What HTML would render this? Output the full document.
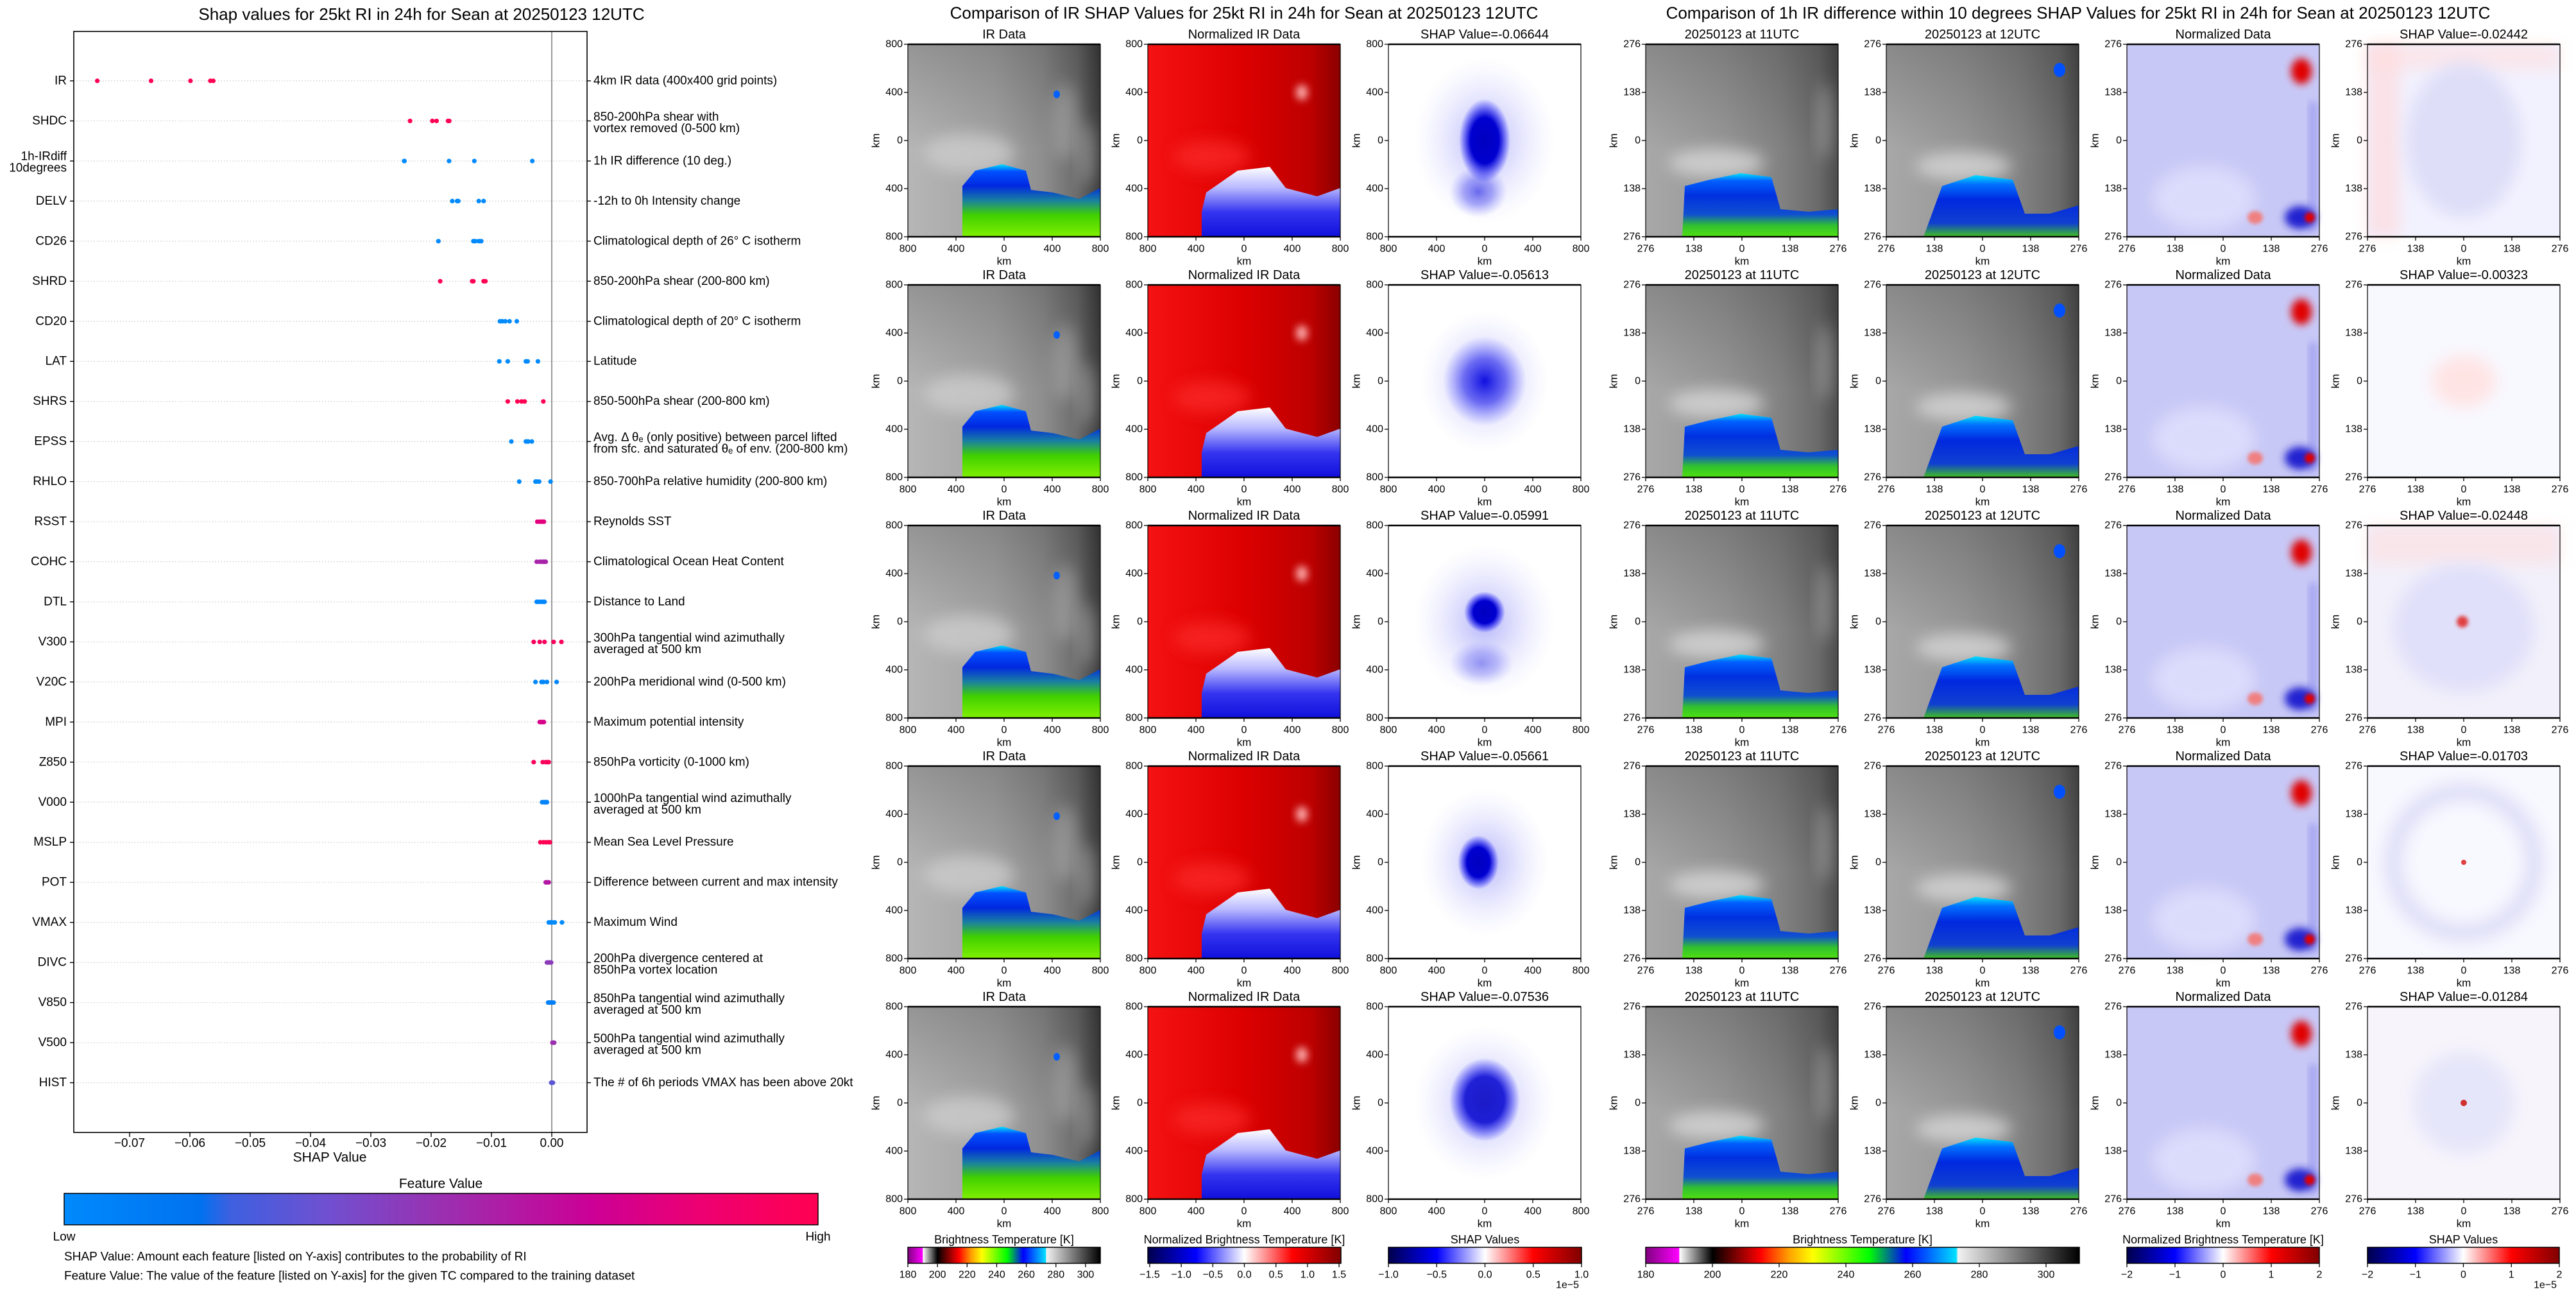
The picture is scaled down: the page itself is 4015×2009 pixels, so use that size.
<!DOCTYPE html>
<html><head><meta charset="utf-8"><title>SHAP RI figure</title>
<style>
html,body{margin:0;padding:0;background:#fff;}
svg{display:block;font-family:"Liberation Sans",sans-serif;}
</style></head>
<body>
<svg id="fig" xmlns="http://www.w3.org/2000/svg" width="4015" height="2009" viewBox="0 0 4015 2009">
<defs>
<filter id="b6" x="-50%" y="-50%" width="200%" height="200%"><feGaussianBlur stdDeviation="6"/></filter>
<filter id="b12" x="-50%" y="-50%" width="200%" height="200%"><feGaussianBlur stdDeviation="12"/></filter>
<filter id="b25" x="-50%" y="-50%" width="200%" height="200%"><feGaussianBlur stdDeviation="25"/></filter>
<filter id="b3" x="-50%" y="-50%" width="200%" height="200%"><feGaussianBlur stdDeviation="3"/></filter>
<linearGradient id="grayL" x1="0" y1="0" x2="1" y2="0"><stop offset="0" stop-color="#b6b6b6"/><stop offset="0.45" stop-color="#a4a4a4"/><stop offset="0.7" stop-color="#8e8e8e"/><stop offset="0.88" stop-color="#6c6c6c"/><stop offset="1" stop-color="#3c3c3c"/></linearGradient>
<linearGradient id="grayR" x1="0" y1="0" x2="1" y2="0"><stop offset="0" stop-color="#a8a8a8"/><stop offset="0.4" stop-color="#979797"/><stop offset="0.7" stop-color="#828282"/><stop offset="0.9" stop-color="#6a6a6a"/><stop offset="1" stop-color="#4c4c4c"/></linearGradient>
<linearGradient id="shadeTop" x1="0" y1="0" x2="0" y2="1"><stop offset="0" stop-color="#000" stop-opacity="0.18"/><stop offset="0.55" stop-color="#000" stop-opacity="0"/></linearGradient>
<linearGradient id="cloudL" x1="0" y1="0" x2="0" y2="1"><stop offset="0" stop-color="#00e0ff"/><stop offset="0.1" stop-color="#0050ff"/><stop offset="0.3" stop-color="#0028e0"/><stop offset="0.5" stop-color="#1a80a0"/><stop offset="0.7" stop-color="#40d000"/><stop offset="1" stop-color="#80f000"/></linearGradient>
<linearGradient id="cloudR" x1="0" y1="0" x2="0" y2="1"><stop offset="0" stop-color="#00e0ff"/><stop offset="0.12" stop-color="#0060ff"/><stop offset="0.35" stop-color="#0030e0"/><stop offset="0.65" stop-color="#1050d0"/><stop offset="0.82" stop-color="#30c030"/><stop offset="1" stop-color="#50e010"/></linearGradient>
<linearGradient id="cloudR2" x1="0" y1="0" x2="0" y2="1"><stop offset="0" stop-color="#00e0ff"/><stop offset="0.15" stop-color="#0070ff"/><stop offset="0.4" stop-color="#0028e0"/><stop offset="0.78" stop-color="#1040d0"/><stop offset="1" stop-color="#40c020"/></linearGradient>
<linearGradient id="redL" x1="0" y1="0" x2="1" y2="0"><stop offset="0" stop-color="#f51212"/><stop offset="0.5" stop-color="#dc0000"/><stop offset="0.85" stop-color="#bc0000"/><stop offset="1" stop-color="#8a0000"/></linearGradient>
<linearGradient id="normCloud" x1="0" y1="0" x2="0" y2="1"><stop offset="0" stop-color="#ffffff"/><stop offset="0.3" stop-color="#b8b8ff"/><stop offset="0.65" stop-color="#3434f0"/><stop offset="1" stop-color="#1010dc"/></linearGradient>
<radialGradient id="blobDark"><stop offset="0" stop-color="#0000c0"/><stop offset="0.55" stop-color="#0000d0"/><stop offset="1" stop-color="#0000ff" stop-opacity="0"/></radialGradient>
<radialGradient id="blobSoft"><stop offset="0" stop-color="#1010e0"/><stop offset="0.5" stop-color="#5050f0" stop-opacity="0.8"/><stop offset="1" stop-color="#8080ff" stop-opacity="0"/></radialGradient>
<radialGradient id="halo"><stop offset="0" stop-color="#a0a0f8" stop-opacity="0.8"/><stop offset="1" stop-color="#d8d8ff" stop-opacity="0"/></radialGradient>
<linearGradient id="cmapShap" x1="0" y1="0" x2="1" y2="0"><stop offset="0" stop-color="#008afc"/><stop offset="0.18" stop-color="#0072f0"/><stop offset="0.22" stop-color="#3d60e0"/><stop offset="0.35" stop-color="#7050d0"/><stop offset="0.5" stop-color="#9a30b0"/><stop offset="0.7" stop-color="#cc0096"/><stop offset="0.85" stop-color="#ee0070"/><stop offset="1" stop-color="#ff0052"/></linearGradient>
<linearGradient id="cmapBT" x1="0" y1="0" x2="1" y2="0"><stop offset="0" stop-color="#800080"/><stop offset="0.077" stop-color="#ff00ff"/><stop offset="0.078" stop-color="#ffffff"/><stop offset="0.154" stop-color="#000000"/><stop offset="0.265" stop-color="#ff0000"/><stop offset="0.33" stop-color="#ffa000"/><stop offset="0.385" stop-color="#ffff00"/><stop offset="0.515" stop-color="#00ff00"/><stop offset="0.6" stop-color="#0000ff"/><stop offset="0.716" stop-color="#00e0ff"/><stop offset="0.72" stop-color="#f2f2f2"/><stop offset="1" stop-color="#000000"/></linearGradient>
<linearGradient id="cmapSeis" x1="0" y1="0" x2="1" y2="0"><stop offset="0" stop-color="#00004c"/><stop offset="0.25" stop-color="#0000ff"/><stop offset="0.5" stop-color="#ffffff"/><stop offset="0.75" stop-color="#ff0000"/><stop offset="1" stop-color="#800000"/></linearGradient>

<g id="irL">
<rect width="300" height="300" fill="url(#grayL)"/>
<rect width="300" height="300" fill="url(#shadeTop)"/>
<ellipse cx="95" cy="170" rx="70" ry="30" fill="#d0d0d0" opacity="0.7" filter="url(#b12)"/>
<ellipse cx="245" cy="120" rx="20" ry="60" fill="#cccccc" opacity="0.35" filter="url(#b12)"/>
<ellipse cx="280" cy="170" rx="12" ry="50" fill="#dddddd" opacity="0.35" filter="url(#b12)"/>
<ellipse cx="232" cy="78" rx="5" ry="6" fill="#0060ff"/>
<polygon points="85,300 85,221 105,197 147,187 184,197 192,227 226,231 267,241 300,224 300,300" fill="url(#cloudL)"/>
</g>
<g id="normL">
<rect width="300" height="300" fill="url(#redL)"/>
<ellipse cx="100" cy="175" rx="60" ry="25" fill="#ff3030" opacity="0.6" filter="url(#b12)"/>
<ellipse cx="240" cy="75" rx="9" ry="12" fill="#ffb0b0" filter="url(#b6)"/>
<polygon points="84,300 84,261 91,231 140,197 190,191 215,224 264,237 300,224 300,300" fill="url(#normCloud)"/>
</g>
<g id="shapL1"><rect width="300" height="300" fill="#fff"/><ellipse cx="150" cy="150" rx="110" ry="130" fill="url(#halo)"/><ellipse cx="140" cy="230" rx="45" ry="40" fill="url(#blobSoft)" opacity="0.6"/><ellipse cx="150" cy="150" rx="40" ry="65" fill="url(#blobDark)"/></g>
<g id="shapL2"><rect width="300" height="300" fill="#fff"/><ellipse cx="150" cy="150" rx="100" ry="110" fill="url(#halo)"/><ellipse cx="150" cy="150" rx="65" ry="70" fill="url(#blobSoft)"/></g>
<g id="shapL3"><rect width="300" height="300" fill="#fff"/><ellipse cx="150" cy="150" rx="110" ry="120" fill="url(#halo)"/><ellipse cx="145" cy="215" rx="50" ry="35" fill="url(#blobSoft)" opacity="0.4"/><ellipse cx="150" cy="135" rx="32" ry="32" fill="url(#blobDark)"/></g>
<g id="shapL4"><rect width="300" height="300" fill="#fff"/><ellipse cx="150" cy="150" rx="100" ry="115" fill="url(#halo)"/><ellipse cx="140" cy="150" rx="32" ry="42" fill="url(#blobDark)"/></g>
<g id="shapL5"><rect width="300" height="300" fill="#fff"/><ellipse cx="150" cy="150" rx="110" ry="120" fill="url(#halo)"/><ellipse cx="150" cy="145" rx="55" ry="65" fill="url(#blobDark)" opacity="0.85"/></g>

<g id="ir11">
<rect width="300" height="300" fill="url(#grayR)"/>
<rect width="300" height="300" fill="url(#shadeTop)"/>
<ellipse cx="110" cy="185" rx="75" ry="22" fill="#d8d8d8" opacity="0.8" filter="url(#b12)"/>
<ellipse cx="280" cy="120" rx="12" ry="60" fill="#d8d8d8" opacity="0.35" filter="url(#b12)"/>
<polygon points="57,300 61,221 100,211 148,201 196,207 210,257 254,261 300,257 300,300" fill="url(#cloudR)"/>
</g>
<g id="ir12">
<rect width="300" height="300" fill="url(#grayR)"/>
<rect width="300" height="300" fill="url(#shadeTop)"/>
<ellipse cx="120" cy="190" rx="75" ry="22" fill="#d8d8d8" opacity="0.8" filter="url(#b12)"/>
<ellipse cx="270" cy="40" rx="9" ry="11" fill="#0050ff"/>
<polygon points="58,300 87,221 139,204 197,211 216,264 255,264 300,251 300,300" fill="url(#cloudR2)"/>
</g>
<g id="normR">
<rect width="300" height="300" fill="#c8c8f6"/>
<ellipse cx="120" cy="240" rx="80" ry="50" fill="#e4e4ff" opacity="0.7" filter="url(#b12)"/>
<ellipse cx="272" cy="42" rx="16" ry="20" fill="#e00000" filter="url(#b6)"/>
<rect x="285" y="90" width="10" height="200" fill="#4040e0" opacity="0.35" filter="url(#b6)"/>
<ellipse cx="270" cy="270" rx="24" ry="18" fill="#2020d0" filter="url(#b6)"/>
<ellipse cx="285" cy="270" rx="8" ry="8" fill="#e00000" filter="url(#b3)"/>
<ellipse cx="200" cy="270" rx="12" ry="10" fill="#f08080" filter="url(#b3)"/>
</g>
<g id="shapR1"><rect width="300" height="300" fill="#f2f2ff"/><rect x="0" y="0" width="50" height="300" fill="#ffd6d6" opacity="0.6" filter="url(#b12)"/><rect x="0" y="0" width="300" height="40" fill="#ffdede" opacity="0.6" filter="url(#b12)"/><ellipse cx="150" cy="150" rx="90" ry="120" fill="#dedef8" filter="url(#b12)"/></g>
<g id="shapR2"><rect width="300" height="300" fill="#f8f8ff"/><ellipse cx="150" cy="150" rx="50" ry="40" fill="#ffe4e4" filter="url(#b12)"/></g>
<g id="shapR3"><rect width="300" height="300" fill="#f2f0fa"/><rect x="0" y="0" width="300" height="60" fill="#ffdada" opacity="0.5" filter="url(#b12)"/><ellipse cx="150" cy="160" rx="110" ry="100" fill="#e0e0fa" filter="url(#b12)"/><ellipse cx="148" cy="150" rx="9" ry="9" fill="#e04040" filter="url(#b3)"/></g>
<g id="shapR4"><rect width="300" height="300" fill="#f8f8ff"/><ellipse cx="150" cy="150" rx="110" ry="110" fill="none" stroke="#e0e0f8" stroke-width="30" filter="url(#b12)"/><ellipse cx="150" cy="150" rx="4" ry="4" fill="#e04040"/></g>
<g id="shapR5"><rect width="300" height="300" fill="#f7f4fb"/><ellipse cx="150" cy="150" rx="80" ry="80" fill="#e6e6fa" filter="url(#b12)"/><ellipse cx="150" cy="150" rx="5" ry="5" fill="#d03030"/></g>
</defs>

<g id="leftChart"></g>
<g id="panels"></g>
</svg>

<script>
// ---------- SHAP summary chart data ----------
const features = ['IR','SHDC','1h-IRdiff','DELV','CD26','SHRD','CD20','LAT','SHRS','EPSS','RHLO','RSST','COHC','DTL','V300','V20C','MPI','Z850','V000','MSLP','POT','VMAX','DIVC','V850','V500','HIST'];
const descriptions = [
 ['4km IR data (400x400 grid points)'],
 ['850-200hPa shear with','vortex removed (0-500 km)'],
 ['1h IR difference (10 deg.)'],
 ['-12h to 0h Intensity change'],
 ['Climatological depth of 26° C isotherm'],
 ['850-200hPa shear (200-800 km)'],
 ['Climatological depth of 20° C isotherm'],
 ['Latitude'],
 ['850-500hPa shear (200-800 km)'],
 ['Avg. Δ θₑ (only positive) between parcel lifted','from sfc. and saturated θₑ of env. (200-800 km)'],
 ['850-700hPa relative humidity (200-800 km)'],
 ['Reynolds SST'],
 ['Climatological Ocean Heat Content'],
 ['Distance to Land'],
 ['300hPa tangential wind azimuthally','averaged at 500 km'],
 ['200hPa meridional wind (0-500 km)'],
 ['Maximum potential intensity'],
 ['850hPa vorticity (0-1000 km)'],
 ['1000hPa tangential wind azimuthally','averaged at 500 km'],
 ['Mean Sea Level Pressure'],
 ['Difference between current and max intensity'],
 ['Maximum Wind'],
 ['200hPa divergence centered at','850hPa vortex location'],
 ['850hPa tangential wind azimuthally','averaged at 500 km'],
 ['500hPa tangential wind azimuthally','averaged at 500 km'],
 ['The # of 6h periods VMAX has been above 20kt']
];
const shapValues = [
 [-0.07536,-0.06644,-0.05991,-0.05661,-0.05613],
 [-0.0235,-0.0198,-0.0191,-0.0172,-0.0170],
 [-0.02448,-0.02442,-0.01703,-0.01284,-0.00323],
 [-0.0165,-0.0157,-0.0155,-0.0121,-0.0113],
 [-0.0188,-0.0130,-0.0127,-0.0121,-0.0117],
 [-0.0185,-0.0132,-0.0130,-0.0113,-0.0110],
 [-0.0086,-0.0082,-0.0077,-0.0070,-0.0058],
 [-0.0087,-0.0073,-0.0043,-0.0040,-0.0023],
 [-0.0073,-0.0057,-0.0050,-0.0045,-0.0014],
 [-0.0067,-0.0043,-0.0040,-0.0039,-0.0033],
 [-0.0054,-0.0027,-0.0025,-0.0021,-0.0002],
 [-0.0024,-0.0020,-0.0018,-0.0015,-0.0013],
 [-0.0025,-0.0020,-0.0016,-0.0013,-0.0010],
 [-0.0025,-0.0022,-0.0018,-0.0015,-0.0012],
 [-0.0030,-0.0020,-0.0012,0.0003,0.0016],
 [-0.0027,-0.0017,-0.0014,-0.0008,0.0008],
 [-0.0020,-0.0018,-0.0016,-0.0014,-0.0013],
 [-0.0030,-0.0015,-0.0010,-0.0007,-0.0005],
 [-0.0016,-0.0013,-0.0011,-0.0009,-0.0008],
 [-0.0019,-0.0014,-0.0010,-0.0006,-0.0003],
 [-0.0010,-0.0009,-0.0008,-0.0006,-0.0005],
 [-0.0005,-0.0002,0.0001,0.0005,0.0017],
 [-0.0008,-0.0006,-0.0004,-0.0002,-0.0001],
 [-0.0006,-0.0004,-0.0002,0.0000,0.0003],
 [0.0001,0.0002,0.0003,0.0003,0.0004],
 [-0.0001,0.0000,0.0000,0.0001,0.0002]
];
const featureValues = [1,1,0,0,0,1,0,0,1,0,0,0.8,0.55,0.02,0.95,0.03,0.75,0.95,0.05,1,0.6,0,0.45,0.08,0.5,0.3];
const xTicks = [-0.07,-0.06,-0.05,-0.04,-0.03,-0.02,-0.01,0];
const xTickLabels = ['−0.07','−0.06','−0.05','−0.04','−0.03','−0.02','−0.01','0.00'];

const leftShapTitles = ['SHAP Value=-0.06644','SHAP Value=-0.05613','SHAP Value=-0.05991','SHAP Value=-0.05661','SHAP Value=-0.07536'];
const rightShapTitles = ['SHAP Value=-0.02442','SHAP Value=-0.00323','SHAP Value=-0.02448','SHAP Value=-0.01703','SHAP Value=-0.01284'];
const btTicks = [180,200,220,240,260,280,300];
const normTicksL = [-1.5,-1.0,-0.5,0.0,0.5,1.0,1.5];
const shapTicksL = [-1.0,-0.5,0.0,0.5,1.0];
const ticksR = [-2,-1,0,1,2];

const NS = 'http://www.w3.org/2000/svg';
function mk(tag, parent){ const e=document.createElementNS(NS,tag); parent.appendChild(e); return e; }
function txt(parent, x, y, s, size, anchor){
  const t = mk('text', parent);
  t.setAttribute('x', x); t.setAttribute('y', y);
  t.setAttribute('font-size', size);
  t.setAttribute('text-anchor', anchor || 'middle');
  t.setAttribute('dominant-baseline','central');
  t.textContent = s;
  return t;
}
function hex(c){return [parseInt(c.slice(1,3),16),parseInt(c.slice(3,5),16),parseInt(c.slice(5,7),16)];}
const cstops=[[0,'#008afc'],[0.18,'#0072f0'],[0.22,'#3d60e0'],[0.35,'#7050d0'],[0.5,'#9a30b0'],[0.7,'#cc0096'],[0.85,'#ee0070'],[1,'#ff0052']];
function cmap(v){
  for(let i=1;i<cstops.length;i++){ if(v<=cstops[i][0]){ const a=cstops[i-1], b=cstops[i]; const f=(v-a[0])/(b[0]-a[0]); const A=hex(a[1]),B=hex(b[1]); return 'rgb('+A.map((q,k)=>Math.round(q+(B[k]-q)*f)).join(',')+')'; } }
  return cstops[cstops.length-1][1];
}

const AX = {left:115, right:915, top:49, bottom:1765};
function xScale(v){ return 860 + v*9400; }
function yScale(i){ return 126 + i*62.46; }

const L = document.getElementById('leftChart');
let el;
el = txt(L, 657, 22, 'Shap values for 25kt RI in 24h for Sean at 20250123 12UTC', 26);
 

features.forEach((f,i)=>{
  const y = yScale(i);
  const g = mk('line', L);
  g.setAttribute('x1',AX.left); g.setAttribute('x2',AX.right); g.setAttribute('y1',y); g.setAttribute('y2',y);
  g.setAttribute('stroke','#c8c8c8'); g.setAttribute('stroke-dasharray','1.5,3'); g.setAttribute('stroke-width','1.2');
   
});

el = mk('line', L);
el.setAttribute('x1',xScale(0)); el.setAttribute('x2',xScale(0)); el.setAttribute('y1',AX.top); el.setAttribute('y2',AX.bottom);
el.setAttribute('stroke','#999'); el.setAttribute('stroke-width','2');
 

el = mk('rect', L);
el.setAttribute('x',AX.left); el.setAttribute('y',AX.top); el.setAttribute('width',AX.right-AX.left); el.setAttribute('height',AX.bottom-AX.top);
el.setAttribute('fill','none'); el.setAttribute('stroke','#000'); el.setAttribute('stroke-width','1.6');
 

features.forEach((f,i)=>{
  const y = yScale(i);
  let tk = mk('line', L);
  tk.setAttribute('x1',AX.left-6); tk.setAttribute('x2',AX.left); tk.setAttribute('y1',y); tk.setAttribute('y2',y); tk.setAttribute('stroke','#000'); tk.setAttribute('stroke-width','1.4');
   
  tk = mk('line', L);
  tk.setAttribute('x1',AX.right); tk.setAttribute('x2',AX.right+6); tk.setAttribute('y1',y); tk.setAttribute('y2',y); tk.setAttribute('stroke','#000'); tk.setAttribute('stroke-width','1.4');
   
  let lab;
  if (f === '1h-IRdiff') {
    lab = txt(L, 104, y-7, '1h-IRdiff', 19, 'end');
     
    lab = txt(L, 104, y+11, '10degrees', 19, 'end');
  } else {
    lab = txt(L, 104, y, f, 19, 'end');
  }
   
  const d = descriptions[i];
  if (d.length === 1) {
    lab = txt(L, 925, y, d[0], 19, 'start');
     
  } else {
    lab = txt(L, 925, y-6, d[0], 19, 'start');
     
    lab = txt(L, 925, y+12, d[1], 19, 'start');
     
  }
  shapValues[i].forEach(v=>{
    const c = mk('ellipse', L);
    c.setAttribute('cx', xScale(v)); c.setAttribute('cy', y); c.setAttribute('rx', 3.6); c.setAttribute('ry', 3.6);
    c.setAttribute('fill', cmap(featureValues[i]));
     
  });
});

xTicks.forEach((v,k)=>{
  const x = xScale(v);
  const tk = mk('line', L);
  tk.setAttribute('x1',x); tk.setAttribute('x2',x); tk.setAttribute('y1',AX.bottom); tk.setAttribute('y2',AX.bottom+7); tk.setAttribute('stroke','#000'); tk.setAttribute('stroke-width','1.4');
   
  const t = txt(L, x, 1782, xTickLabels[k], 19);
   
});
el = txt(L, 514, 1804, 'SHAP Value', 21);
 
el = txt(L, 687, 1845, 'Feature Value', 21);
 
el = mk('rect', L);
el.setAttribute('x',100); el.setAttribute('y',1860); el.setAttribute('width',1175); el.setAttribute('height',49);
el.setAttribute('fill','url(#cmapShap)'); el.setAttribute('stroke','#000'); el.setAttribute('stroke-width','1.5');
 
el = txt(L, 100, 1928, 'Low', 19);
 
el = txt(L, 1275, 1928, 'High', 19);
 
el = txt(L, 100, 1959, 'SHAP Value: Amount each feature [listed on Y-axis] contributes to the probability of RI', 19, 'start');
 
el = txt(L, 100, 1989, 'Feature Value: The value of the feature [listed on Y-axis] for the given TC compared to the training dataset', 19, 'start');
 

// ---------- image panels ----------
const P = document.getElementById('panels');
const rowTops = [69,444,819,1194,1569];
const colsL = [1415,1789,2164];
const colsR = [2565,2940,3315,3690];
const PW = 300;

el = txt(P, 1939, 20, 'Comparison of IR SHAP Values for 25kt RI in 24h for Sean at 20250123 12UTC', 26);
 
el = txt(P, 3239, 20, 'Comparison of 1h IR difference within 10 degrees SHAP Values for 25kt RI in 24h for Sean at 20250123 12UTC', 26);
 

function panel(x, y, ref, title, ticks, name){
  const g = mk('g', P);
   
  const u = mk('use', g);
  u.setAttribute('href', '#'+ref); u.setAttribute('x', x); u.setAttribute('y', y);
   
  const fr = mk('rect', g);
  fr.setAttribute('x',x); fr.setAttribute('y',y); fr.setAttribute('width',PW); fr.setAttribute('height',PW);
  fr.setAttribute('fill','none'); fr.setAttribute('stroke','#000'); fr.setAttribute('stroke-width','1.2');
   
  const tl = mk('line', g);
  tl.setAttribute('x1',x); tl.setAttribute('x2',x+PW); tl.setAttribute('y1',y); tl.setAttribute('y2',y); tl.setAttribute('stroke','#000'); tl.setAttribute('stroke-width','2.5');
   
  const bl = mk('line', g);
  bl.setAttribute('x1',x); bl.setAttribute('x2',x+PW); bl.setAttribute('y1',y+PW); bl.setAttribute('y2',y+PW); bl.setAttribute('stroke','#000'); bl.setAttribute('stroke-width','2.5');
   
  let t = txt(g, x+PW/2, y-15, title, 20);
   
  ticks.forEach((s,k)=>{
    const p = k*PW/4;
    let tk = mk('line', g);
    tk.setAttribute('x1',x-6); tk.setAttribute('x2',x); tk.setAttribute('y1',y+p); tk.setAttribute('y2',y+p); tk.setAttribute('stroke','#000'); tk.setAttribute('stroke-width','1.3');
     
    let lt = txt(g, x-8, y+p, s, 16, 'end');
     
    tk = mk('line', g);
    tk.setAttribute('x1',x+p); tk.setAttribute('x2',x+p); tk.setAttribute('y1',y+PW); tk.setAttribute('y2',y+PW+6); tk.setAttribute('stroke','#000'); tk.setAttribute('stroke-width','1.3');
     
    lt = txt(g, x+p, y+PW+19, s, 16);
     
  });
  t = txt(g, x+PW/2, y+PW+38, 'km', 17);
   
  t = txt(g, 0, 0, 'km', 17);
  t.setAttribute('transform','translate('+(x-50)+','+(y+PW/2)+') rotate(-90)');
   
}
const tL = ['800','400','0','400','800'];
const tR = ['276','138','0','138','276'];
rowTops.forEach((y,r)=>{
  panel(colsL[0], y, 'irL', 'IR Data', tL, 'ir-data-panel-'+(r+1));
  panel(colsL[1], y, 'normL', 'Normalized IR Data', tL, 'normalized-ir-panel-'+(r+1));
  panel(colsL[2], y, 'shapL'+(r+1), leftShapTitles[r], tL, 'ir-shap-panel-'+(r+1));
  panel(colsR[0], y, 'ir11', '20250123 at 11UTC', tR, 'ir-11utc-panel-'+(r+1));
  panel(colsR[1], y, 'ir12', '20250123 at 12UTC', tR, 'ir-12utc-panel-'+(r+1));
  panel(colsR[2], y, 'normR', 'Normalized Data', tR, 'normalized-diff-panel-'+(r+1));
  panel(colsR[3], y, 'shapR'+(r+1), rightShapTitles[r], tR, 'diff-shap-panel-'+(r+1));
});

// ---------- colorbars ----------
function colorbar(x, w, grad, label, ticks, lo, hi, fmt, name, sci){
  const g = mk('g', P);
   
  const r = mk('rect', g);
  r.setAttribute('x',x); r.setAttribute('y',1944); r.setAttribute('width',w); r.setAttribute('height',25);
  r.setAttribute('fill','url(#'+grad+')'); r.setAttribute('stroke','#000'); r.setAttribute('stroke-width','1.5');
   
  let t = txt(g, x+w/2, 1932, label, 18);
   
  ticks.forEach(v=>{
    const px = x + (v-lo)/(hi-lo)*w;
    const tk = mk('line', g);
    tk.setAttribute('x1',px); tk.setAttribute('x2',px); tk.setAttribute('y1',1969); tk.setAttribute('y2',1975); tk.setAttribute('stroke','#000'); tk.setAttribute('stroke-width','1.3');
     
    const lt = txt(g, px, 1987, fmt(v), 16);
     
  });
  if (sci) {
    t = txt(g, x+w-4, 2003, '1e−5', 16, 'end');
     
  }
}
const f0 = v=>String(v);
const f1 = v=>(v<0?'−':'')+Math.abs(v).toFixed(1);
const fi = v=>(v<0?'−':'')+Math.abs(v);
colorbar(colsL[0], 300, 'cmapBT', 'Brightness Temperature [K]', btTicks, 180, 310, f0, 'bt-colorbar-left', false);
colorbar(colsL[1], 301, 'cmapSeis', 'Normalized Brightness Temperature [K]', normTicksL, -1.53, 1.53, f1, 'norm-colorbar-left', false);
colorbar(colsL[2], 301, 'cmapSeis', 'SHAP Values', shapTicksL, -1, 1, f1, 'shap-colorbar-left', true);
colorbar(colsR[0], 676, 'cmapBT', 'Brightness Temperature [K]', btTicks, 180, 310, f0, 'bt-colorbar-right', false);
colorbar(colsR[2], 300, 'cmapSeis', 'Normalized Brightness Temperature [K]', ticksR, -2, 2, fi, 'norm-colorbar-right', false);
colorbar(colsR[3], 299, 'cmapSeis', 'SHAP Values', ticksR, -2, 2, fi, 'shap-colorbar-right', true);
</script>
</body></html>
